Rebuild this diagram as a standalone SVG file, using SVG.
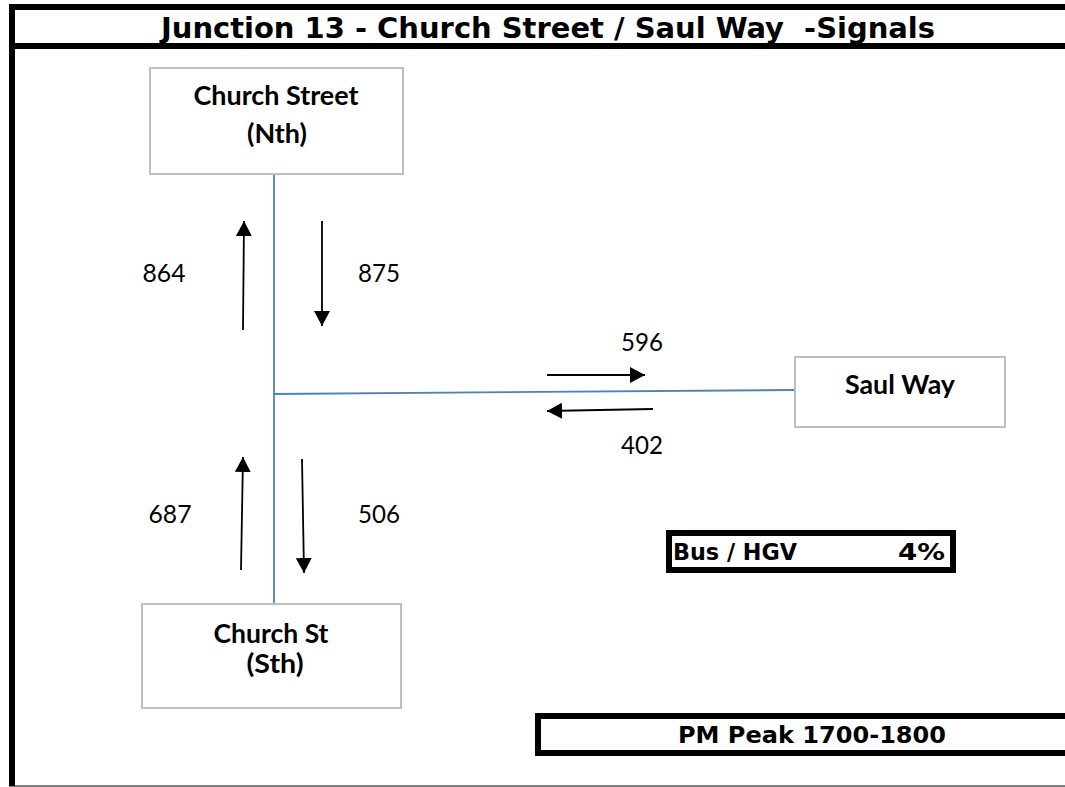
<svg xmlns="http://www.w3.org/2000/svg" width="1065" height="787" viewBox="0 0 1065 787">
<style>
.frame{fill:none;stroke:#000;stroke-width:6}
.node rect{fill:#fff;stroke:#bfbfbf;stroke-width:2}
.nl{font-family:Lato,"Liberation Sans",sans-serif;font-weight:bold;font-size:26px;fill:#000;text-anchor:middle}
.num{font-family:Lato,"Liberation Sans",sans-serif;font-size:25px;fill:#000;text-anchor:middle}
.road{stroke:#4f81bd;stroke-width:1.8;fill:none}
.arr{stroke:#000;stroke-width:1.8;fill:none;marker-end:url(#ah)}
.tb{font-family:"DejaVu Sans",sans-serif;font-stretch:condensed;font-weight:bold;fill:#000}
</style>
<defs>
<marker id="ah" viewBox="0 0 15 16" refX="15" refY="8" markerWidth="15" markerHeight="16" markerUnits="userSpaceOnUse" orient="auto">
<path d="M0,0 L15,8 L0,16 Z" fill="#000"/>
</marker>
</defs>
<rect width="1065" height="787" fill="#fff"/>
<g id="frame">
<line class="frame" x1="9" y1="7" x2="1065" y2="7"/>
<line class="frame" x1="9" y1="46" x2="1065" y2="46"/>
<line class="frame" x1="12" y1="4" x2="12" y2="786.5"/>
<line x1="15" y1="786" x2="1065" y2="786" stroke="#000" stroke-width="1"/>
<text class="tb" x="161" y="38" font-size="29" textLength="774" lengthAdjust="spacingAndGlyphs" xml:space="preserve">Junction 13 - Church Street / Saul Way  -Signals</text>
</g>
<g id="connectors">
<line class="road" x1="274" y1="174" x2="274" y2="604"/>
<line class="road" x1="274" y1="394" x2="795" y2="390"/>
<line class="arr" x1="243" y1="330" x2="244" y2="221"/>
<line class="arr" x1="322" y1="221" x2="322" y2="326"/>
<line class="arr" x1="547" y1="375" x2="645" y2="375"/>
<line class="arr" x1="653" y1="409" x2="547" y2="411"/>
<line class="arr" x1="241" y1="570" x2="243" y2="457"/>
<line class="arr" x1="302" y1="459" x2="304" y2="573"/>
</g>
<g id="labels">
<text class="num" x="164" y="282" textLength="43" lengthAdjust="spacingAndGlyphs">864</text>
<text class="num" x="379" y="282" textLength="42" lengthAdjust="spacingAndGlyphs">875</text>
<text class="num" x="642" y="351" textLength="42" lengthAdjust="spacingAndGlyphs">596</text>
<text class="num" x="642" y="454" textLength="42" lengthAdjust="spacingAndGlyphs">402</text>
<text class="num" x="170" y="523" textLength="43" lengthAdjust="spacingAndGlyphs">687</text>
<text class="num" x="379" y="523" textLength="42" lengthAdjust="spacingAndGlyphs">506</text>
</g>
<g id="node-church-street-nth" class="node">
<rect x="150" y="68" width="253" height="106"/>
<text class="nl" x="276" y="105" textLength="165" lengthAdjust="spacingAndGlyphs">Church Street</text>
<text class="nl" x="277" y="143" textLength="60" lengthAdjust="spacingAndGlyphs">(Nth)</text>
</g>
<g id="node-saul-way" class="node">
<rect x="795" y="357" width="210" height="70"/>
<text class="nl" x="900" y="394" textLength="110" lengthAdjust="spacingAndGlyphs">Saul Way</text>
</g>
<g id="node-church-st-sth" class="node">
<rect x="142" y="604" width="259" height="104"/>
<text class="nl" x="271" y="643" textLength="115" lengthAdjust="spacingAndGlyphs">Church St</text>
<text class="nl" x="275" y="673" textLength="57" lengthAdjust="spacingAndGlyphs">(Sth)</text>
</g>
<g id="bus-hgv">
<rect class="frame" x="669" y="533" width="284" height="37"/>
<text class="tb" x="673" y="560" font-size="23.5" textLength="124" lengthAdjust="spacingAndGlyphs">Bus / HGV</text>
<text class="tb" x="945" y="560" font-size="23.5" text-anchor="end" textLength="47" lengthAdjust="spacingAndGlyphs">4%</text>
</g>
<g id="pm-peak">
<rect class="frame" x="538" y="716" width="540" height="37"/>
<text class="tb" x="678" y="743" font-size="23.5" textLength="268" lengthAdjust="spacingAndGlyphs">PM Peak 1700-1800</text>
</g>
</svg>
